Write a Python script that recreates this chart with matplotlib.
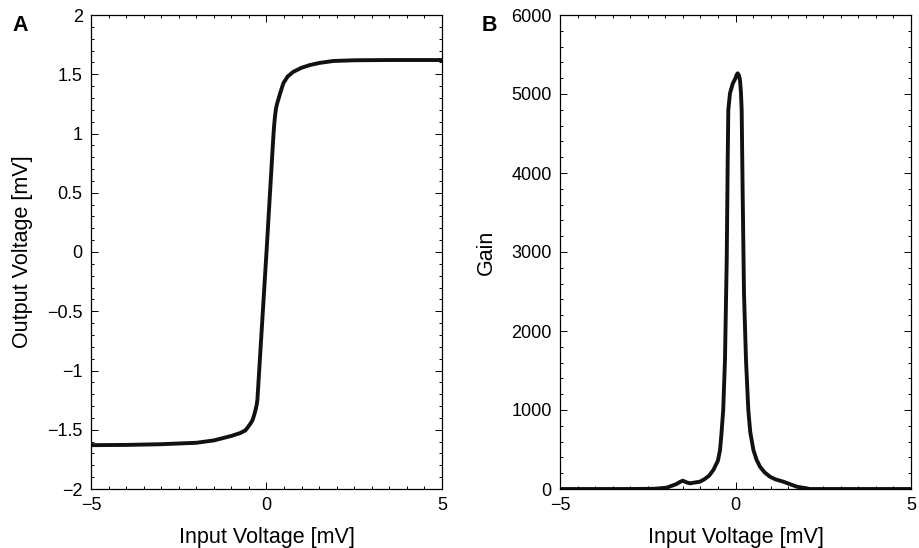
import matplotlib
matplotlib.use("Agg")
import matplotlib.pyplot as plt
from matplotlib.ticker import MultipleLocator

plt.rcParams['font.family'] = ['Liberation Sans', 'DejaVu Sans']

# Panel A: transfer curve (input vs output voltage)
vin_a = [-5, -4, -3, -2, -1.5, -1.0, -0.75, -0.6, -0.52, -0.45, -0.4, -0.35,
         -0.31, -0.28, -0.26, 0.0, 0.19, 0.215, 0.24, 0.27, 0.30, 0.34, 0.40,
         0.48, 0.6, 0.76, 1.0, 1.24, 1.5, 1.9, 2.5, 3.5, 5]
vout_a = [-1.63, -1.628, -1.622, -1.61, -1.59, -1.552, -1.528, -1.505, -1.474,
          -1.445, -1.42, -1.375, -1.33, -1.29, -1.25, 0.0, 0.95, 1.06, 1.14,
          1.21, 1.25, 1.29, 1.35, 1.424, 1.48, 1.52, 1.555, 1.578, 1.595,
          1.612, 1.618, 1.62, 1.62]

# Panel B: gain vs input voltage
vin_b = [-5, -3, -2.3, -1.96, -1.68, -1.58, -1.50, -1.40, -1.30, -1.01, -0.88,
         -0.75, -0.63, -0.50, -0.44, -0.40, -0.35, -0.30, -0.25, -0.222,
         -0.205, -0.157, -0.08, 0.0, 0.03, 0.062, 0.095, 0.128, 0.155, 0.176,
         0.204, 0.242, 0.299, 0.365, 0.42, 0.51, 0.60, 0.698, 0.83, 0.98,
         1.15, 1.36, 1.74, 2.12, 3, 5]
gain_b = [0, 0, 3, 17, 63, 90, 105, 85, 72, 93, 125, 170, 241, 360, 494, 700,
          1000, 1633, 2899, 4165, 4797, 5009, 5130, 5200, 5240, 5262, 5240,
          5177, 5020, 4797, 3743, 2477, 1633, 1000, 720, 494, 370, 283, 210,
          156, 120, 93, 30, 0, 0, 0]

fig = plt.figure(figsize=(9.2, 5.48), dpi=100)
ax_a = fig.add_axes([91 / 920, 59 / 548, 351 / 920, 474 / 548])
ax_b = fig.add_axes([560 / 920, 59 / 548, 351 / 920, 474 / 548])

line_kw = dict(color='#111111', linewidth=2.8, solid_joinstyle='round',
               solid_capstyle='butt')
ax_a.plot(vin_a, vout_a, **line_kw)
ax_b.plot(vin_b, gain_b, **line_kw)

ax_a.set_xlim(-5, 5)
ax_a.set_ylim(-2, 2)
ax_a.yaxis.set_minor_locator(MultipleLocator(0.1))
ax_a.set_yticks([-2, -1.5, -1, -0.5, 0, 0.5, 1, 1.5, 2])
ax_a.set_yticklabels(['\u22122', '\u22121.5', '\u22121', '\u22120.5', '0',
                      '0.5', '1', '1.5', '2'])
ax_a.set_ylabel('Output Voltage [mV]', fontsize=15.5, labelpad=10)

ax_b.set_xlim(-5, 5)
ax_b.set_ylim(0, 6000)
ax_b.yaxis.set_major_locator(MultipleLocator(1000))
ax_b.yaxis.set_minor_locator(MultipleLocator(200))
ax_b.set_ylabel('Gain', fontsize=15.5, labelpad=10)

for ax in (ax_a, ax_b):
    ax.xaxis.set_major_locator(MultipleLocator(5))
    ax.xaxis.set_minor_locator(MultipleLocator(0.5))
    ax.set_xlabel('Input Voltage [mV]', fontsize=15.5, labelpad=9)
    ax.tick_params(which='both', direction='in', top=True, right=True,
                   labelsize=13, width=0.7, color='black')
    ax.tick_params(which='major', length=5, pad=6)
    ax.tick_params(which='minor', length=2.5)
    for s in ax.spines.values():
        s.set_linewidth(0.9)
        s.set_color('black')

fig.text(12 / 920, 1 - 31 / 548, 'A', fontsize=15.5, fontweight='bold',
         va='baseline')
fig.text(482 / 920, 1 - 31 / 548, 'B', fontsize=15.5, fontweight='bold',
         va='baseline')

plt.savefig('out.png', dpi=100)
plt.close(fig)
